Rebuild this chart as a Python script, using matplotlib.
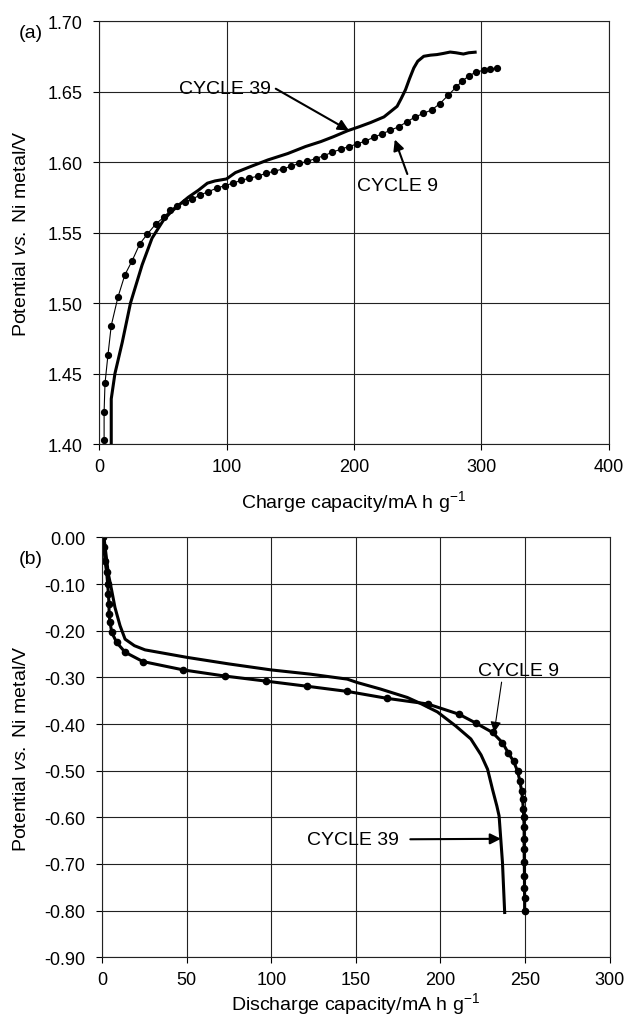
import matplotlib
matplotlib.use('Agg')
import matplotlib.pyplot as plt
from matplotlib.ticker import FormatStrFormatter

plt.rcParams['font.family'] = ['Liberation Sans', 'DejaVu Sans']
plt.rcParams['mathtext.fontset'] = 'custom'
plt.rcParams['mathtext.rm'] = 'Liberation Sans'
plt.rcParams['mathtext.it'] = 'Liberation Sans:italic'
plt.rcParams['axes.unicode_minus'] = False

# (a) charge curves
charge_c39_x = [9.6, 9.6, 12.5, 18.2, 24.7, 33.8, 41.6, 50.7, 55.9, 62, 70, 78, 85, 91, 100,
                107, 119.5, 132.5, 148, 162, 174, 184, 195, 204, 213, 223.5, 229, 233.8, 237,
                240.4, 243.5, 246.9, 250, 254.7, 260, 265, 270, 275.4, 280, 285.8, 290, 296.2]
charge_c39_v = [1.399, 1.432, 1.450, 1.472, 1.500, 1.527, 1.546, 1.559, 1.564, 1.569, 1.575,
                1.580, 1.585, 1.5866, 1.588, 1.5925, 1.597, 1.6015, 1.606, 1.611, 1.6145,
                1.618, 1.6222, 1.625, 1.628, 1.632, 1.636, 1.6395, 1.645, 1.6513, 1.659,
                1.6667, 1.6715, 1.675, 1.6758, 1.6762, 1.677, 1.678, 1.6775, 1.6766, 1.6775,
                1.678]

charge_c9_x = [4, 4, 4.7, 7, 9.6, 14.8, 20.3, 26, 32, 38, 44.5, 51, 56, 61, 67.6, 72.7, 79.3,
               85.7, 92.2, 98.8, 105, 111.5, 118, 124.5, 131, 137.5, 144, 150.5, 157, 163.5,
               170, 176.5, 183, 189.5, 196, 202.5, 209, 215.5, 222, 228.5, 235, 241.5, 248,
               254.5, 261, 267.5, 274, 280, 285, 290, 296, 302, 307, 312]
charge_c9_v = [1.403, 1.423, 1.443, 1.463, 1.484, 1.504, 1.520, 1.530, 1.542, 1.549, 1.556,
               1.561, 1.566, 1.569, 1.572, 1.5735, 1.5766, 1.579, 1.5814, 1.5833, 1.585,
               1.587, 1.5885, 1.590, 1.592, 1.5935, 1.595, 1.597, 1.599, 1.6005, 1.6025,
               1.6045, 1.607, 1.609, 1.611, 1.6128, 1.615, 1.6175, 1.620, 1.6225, 1.625,
               1.6285, 1.632, 1.6345, 1.637, 1.6415, 1.6475, 1.653, 1.6575, 1.661, 1.664,
               1.665, 1.6658, 1.6668]

# (b) discharge curves
dis_c39_x = [1.0, 2.0, 3.6, 5.6, 7.5, 10.5, 13.5, 19, 25.3, 50, 74.7, 100, 123, 144.9, 150.8,
             164.6, 180.4, 188.3, 198.2, 209, 218, 224, 227.9, 230.8, 233.4, 234.7, 235.7,
             236.7, 237.3, 238]
dis_c39_v = [0.0, -0.03, -0.078, -0.114, -0.150, -0.189, -0.218, -0.232, -0.241, -0.257,
             -0.271, -0.284, -0.293, -0.3037, -0.311, -0.325, -0.343, -0.356, -0.374, -0.404,
             -0.432, -0.466, -0.497, -0.540, -0.576, -0.597, -0.647, -0.697, -0.747, -0.804]

dis_c9_x = [0.5, 1.0, 1.6, 2.6, 3.2, 3.6, 4.0, 4.0, 4.6, 5.6, 8.5, 13.5, 24, 48, 72.3, 96.9,
            121.2, 144.9, 168.6, 192.5, 211, 221, 230.8, 236.7, 240, 243.3, 245.6, 247, 248,
            248.6, 249.0, 249.3, 249.5, 249.5, 249.5, 249.6, 249.7, 249.7, 249.8, 249.8]
dis_c9_v = [0.0, -0.02, -0.05, -0.075, -0.10, -0.121, -0.143, -0.164, -0.182, -0.2035,
            -0.225, -0.246, -0.266, -0.284, -0.297, -0.308, -0.319, -0.330, -0.345, -0.357,
            -0.379, -0.398, -0.418, -0.44, -0.461, -0.48, -0.501, -0.522, -0.543, -0.561,
            -0.582, -0.600, -0.621, -0.646, -0.667, -0.696, -0.726, -0.751, -0.772, -0.80]

charge_xticks = [0, 100, 200, 300, 400]
charge_yticks = [1.40, 1.45, 1.50, 1.55, 1.60, 1.65, 1.70]
dis_xticks = [0, 50, 100, 150, 200, 250, 300]
dis_yticks = [0.00, -0.10, -0.20, -0.30, -0.40, -0.50, -0.60, -0.70, -0.80, -0.90]

FS = 13     # tick labels
LFS = 14    # axis labels and annotations
fig = plt.figure(figsize=(6.29, 10.20), dpi=100)
ax1 = fig.add_axes([0.1574, 0.5637, 0.8108, 0.4147])
ax2 = fig.add_axes([0.1626, 0.0605, 0.8064, 0.4116])


def style(ax):
    ax.grid(True, color='#222222', linewidth=0.8)
    ax.set_axisbelow(True)
    for s in ax.spines.values():
        s.set_color('#222222')
        s.set_linewidth(0.8)
    ax.tick_params(direction='out', length=4, width=0.8, labelsize=FS)
    ax.tick_params(axis='x', pad=6)
    ax.tick_params(axis='y', pad=8)


ax1.plot(charge_c39_x, charge_c39_v, color='black', lw=2.2, solid_capstyle='butt')
ax1.plot(charge_c9_x, charge_c9_v, color='black', lw=0.8, marker='o', ms=4.2)
ax1.set_xlim(0, 400)
ax1.set_ylim(1.40, 1.70)
ax1.set_xticks(charge_xticks)
ax1.set_yticks(charge_yticks)
ax1.yaxis.set_major_formatter(FormatStrFormatter('%.2f'))
style(ax1)
ax1.set_xlabel('Charge capacity/mA h g$^{-1}$', fontsize=LFS)
ax1.set_ylabel('Potential $\\it{vs.}$ Ni metal/V', fontsize=LFS)
ax1.xaxis.set_label_coords(0.5, -0.104)
ax1.yaxis.set_label_coords(-0.135, 0.5)

arrow = dict(arrowstyle='-|>', color='black', lw=1.5, mutation_scale=16, shrinkA=0, shrinkB=0)
ax1.annotate('CYCLE 39', xy=(196, 1.6224), xytext=(99, 1.652), fontsize=LFS,
             ha='center', va='center', arrowprops=dict(arrow, relpos=(1.05, 0.5)))
ax1.annotate('CYCLE 9', xy=(232, 1.616), xytext=(234.5, 1.5835), fontsize=LFS,
             ha='center', va='center', arrowprops=dict(arrow, relpos=(0.62, 1.1)))

ax2.plot(dis_c39_x, dis_c39_v, color='black', lw=2.2)
ax2.plot(dis_c9_x, dis_c9_v, color='black', lw=2.2, marker='o', ms=4.5)
ax2.set_xlim(0, 300)
ax2.set_ylim(-0.90, 0.00)
ax2.set_xticks(dis_xticks)
ax2.set_yticks(dis_yticks)
ax2.yaxis.set_major_formatter(FormatStrFormatter('%.2f'))
style(ax2)
ax2.set_xlabel('Discharge capacity/mA h g$^{-1}$', fontsize=LFS)
ax2.set_ylabel('Potential $\\it{vs.}$ Ni metal/V', fontsize=LFS)
ax2.xaxis.set_label_coords(0.5, -0.078)
ax2.yaxis.set_label_coords(-0.142, 0.5)

ax2.annotate('CYCLE 9', xy=(231.8, -0.418), xytext=(246, -0.286), fontsize=LFS,
             ha='center', va='center',
             arrowprops=dict(arrow, lw=0.8, relpos=(0.3, 0.0)))
ax2.annotate('CYCLE 39', xy=(235.8, -0.646), xytext=(148.5, -0.647), fontsize=LFS,
             ha='center', va='center', arrowprops=dict(arrow, relpos=(1.12, 0.5)))

fig.text(31 / 629, 1 - 33 / 1020, '(a)', fontsize=LFS, ha='center', va='center')
fig.text(31 / 629, 1 - 560 / 1020, '(b)', fontsize=LFS, ha='center', va='center')

fig.savefig('out.png', dpi=100)
